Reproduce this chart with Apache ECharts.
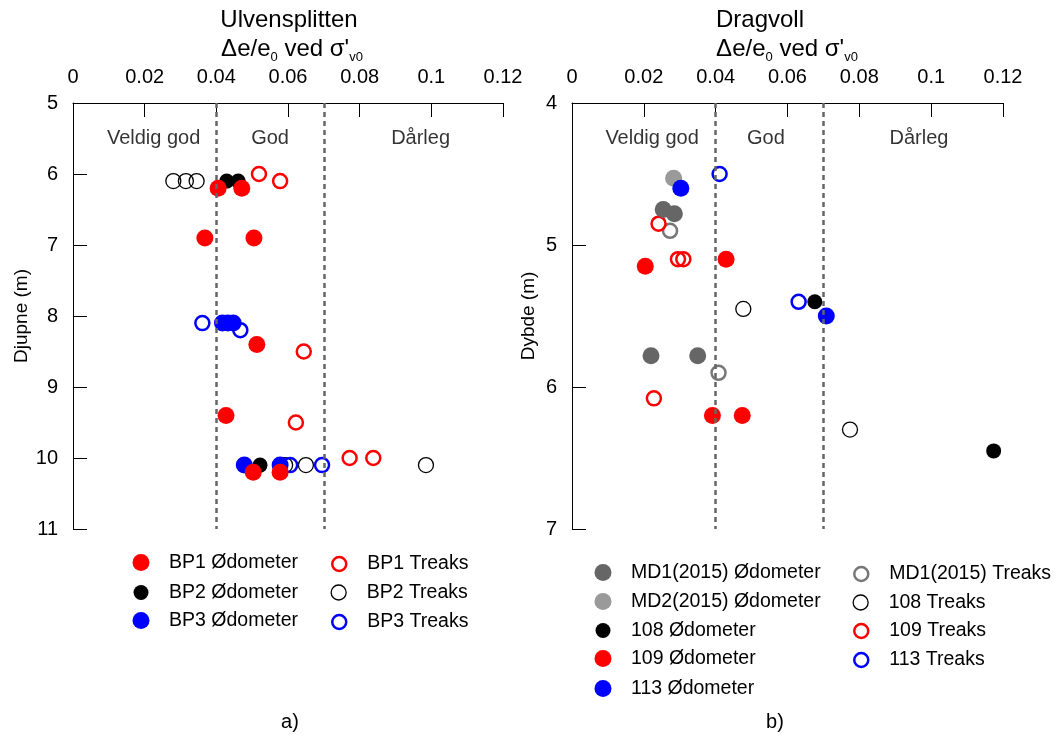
<!DOCTYPE html>
<html>
<head>
<meta charset="utf-8">
<script src="https://cdn.jsdelivr.net/npm/echarts@6/dist/echarts.min.js"></script>
<style>
  html, body { margin: 0; padding: 0; background: #fff; }
  #chart { width: 1057px; height: 742px; }
</style>
</head>
<body>
<div id="chart"></div>
<script>
const FONT = '"Liberation Sans", Arial, Helvetica, sans-serif';

// Δe/e0 axis ticks and quality class limits
const xTicks = [0, 0.02, 0.04, 0.06, 0.08, 0.1, 0.12];
const classLimits = [0.04, 0.07];
const classNames = ['Veldig god', 'God', 'Dårleg'];
const ulvClassLabelX = [0.0225, 0.055, 0.097];
const ulvClassLabelDepth = 5.5;
const dragClassLabelX = [0.0223, 0.054, 0.0966];
const dragClassLabelDepth = 4.25;

// depth ticks (m)
const ulvDepthTicks = [5, 6, 7, 8, 9, 10, 11];
const dragDepthTicks = [4, 5, 6, 7];

// Ulvensplitten: [Δe/e0, depth]
const bp1Odometer = [[0.0405, 6.2], [0.0471, 6.2], [0.0368, 6.9], [0.0505, 6.9], [0.0513, 8.4], [0.0427, 9.4], [0.0503, 10.2], [0.0578, 10.2]];
const bp2Odometer = [[0.0429, 6.1], [0.0461, 6.1], [0.0522, 10.1]];
const bp3Odometer = [[0.0417, 8.1], [0.0432, 8.1], [0.0447, 8.1], [0.0478, 10.1], [0.0578, 10.1]];
const bp1Treaks = [[0.0519, 6.0], [0.0578, 6.1], [0.0644, 8.5], [0.0622, 9.5], [0.0772, 10.0], [0.0838, 10.0]];
const bp2Treaks = [[0.028, 6.1], [0.0315, 6.1], [0.0345, 6.1], [0.0592, 10.1], [0.065, 10.1], [0.0985, 10.1]];
const bp3Treaks = [[0.0361, 8.1], [0.0467, 8.2], [0.0606, 10.1], [0.0695, 10.1]];

// Dragvoll: [Δe/e0, depth]
const md1Odometer = [[0.0254, 4.75], [0.0285, 4.78], [0.022, 5.78], [0.035, 5.78]];
const md2Odometer = [[0.0283, 4.53]];
const p108Odometer = [[0.0676, 5.4], [0.1174, 6.45]];
const p109Odometer = [[0.0204, 5.15], [0.0429, 5.1], [0.0391, 6.2], [0.0474, 6.2]];
const p113Odometer = [[0.0303, 4.6], [0.0708, 5.5]];
const md1Treaks = [[0.0273, 4.9], [0.0408, 5.9]];
const p108Treaks = [[0.0477, 5.45], [0.0774, 6.3]];
const p109Treaks = [[0.0241, 4.85], [0.0295, 5.1], [0.031, 5.1], [0.0228, 6.08]];
const p113Treaks = [[0.0411, 4.5], [0.0631, 5.4]];

const RED = '#ff0000', BLUE = '#0000ff', BLACK = '#000000', DARKGREY = '#666666', LIGHTGREY = '#9a9a9a', GREYRING = '#777777';

function filled(name, data, color, size, g) {
  return {
    type: 'scatter', name, data, xAxisIndex: g, yAxisIndex: g,
    symbol: 'circle', symbolSize: size,
    itemStyle: { color, borderWidth: 0, opacity: 1 }
  };
}
function ring(name, data, color, width, size, g) {
  return {
    type: 'scatter', name, data, xAxisIndex: g, yAxisIndex: g,
    symbol: 'circle', symbolSize: size,
    itemStyle: { color: 'rgba(255,255,255,0)', borderColor: color, borderWidth: width, opacity: 1 }
  };
}
function classLayer(g, xs, depth) {
  return {
    type: 'scatter', name: 'klasse' + g, xAxisIndex: g, yAxisIndex: g,
    symbolSize: 1, silent: true, z: 1,
    itemStyle: { color: 'rgba(0,0,0,0)' },
    data: classNames.map((n, i) => ({ name: n, value: [xs[i], depth] })),
    label: {
      show: true, position: 'inside', formatter: p => p.name,
      fontFamily: FONT, fontSize: 20, color: '#000'
    },
    markLine: {
      silent: true, symbol: ['none', 'none'], label: { show: false },
      lineStyle: { color: '#666666', width: 2.5, type: [5, 4] },
      data: classLimits.map(v => ({ xAxis: v }))
    }
  };
}

function xAxisDef(g) {
  return {
    type: 'value', gridIndex: g, position: 'top',
    min: xTicks[0], max: xTicks[xTicks.length - 1], interval: xTicks[1] - xTicks[0],
    axisLine: { show: true, onZero: false, lineStyle: { color: '#000', width: 1 } },
    axisTick: { show: true, inside: true, length: 14, lineStyle: { color: '#000', width: 1 } },
    axisLabel: { margin: 16, fontFamily: FONT, fontSize: 20, color: '#000', formatter: v => String(+v.toFixed(2)) },
    splitLine: { show: false }
  };
}
function yAxisDef(g, ticks, name, gap) {
  return {
    type: 'value', gridIndex: g, inverse: true,
    min: ticks[0], max: ticks[ticks.length - 1], interval: ticks[1] - ticks[0],
    name, nameLocation: 'middle', nameGap: gap,
    nameTextStyle: { fontFamily: FONT, fontSize: 19, color: '#000' },
    axisLine: { show: true, onZero: false, lineStyle: { color: '#000', width: 1 } },
    axisTick: { show: true, inside: true, length: 14, lineStyle: { color: '#000', width: 1 } },
    axisLabel: { margin: 15, fontFamily: FONT, fontSize: 20, color: '#000' },
    splitLine: { show: false }
  };
}

// one legend block per entry; the block's left edge is the marker's left edge
function legendItem(name, cx, cy, diam, borderWidth) {
  const W = 46;
  return {
    data: [name], orient: 'horizontal', left: cx - diam / 2, top: cy - diam / 2,
    itemWidth: W, itemHeight: diam, padding: 0, itemGap: 0, selectedMode: false,
    itemStyle: { borderWidth: borderWidth },
    textStyle: { fontFamily: FONT, fontSize: 19.5, color: '#000' }
  };
}

const series = [
  classLayer(0, ulvClassLabelX, ulvClassLabelDepth),
  ring('BP1 Treaks', bp1Treaks, RED, 2.5, 14, 0),
  ring('BP2 Treaks', bp2Treaks, BLACK, 1.3, 15, 0),
  ring('BP3 Treaks', bp3Treaks, BLUE, 2.5, 14, 0),
  filled('BP3 Ødometer', bp3Odometer, BLUE, 17, 0),
  filled('BP2 Ødometer', bp2Odometer, BLACK, 15, 0),
  filled('BP1 Ødometer', bp1Odometer, RED, 17, 0),

  classLayer(1, dragClassLabelX, dragClassLabelDepth),
  ring('MD1(2015) Treaks', md1Treaks, GREYRING, 2.5, 14, 1),
  ring('108 Treaks', p108Treaks, BLACK, 1.3, 15, 1),
  ring('109 Treaks', p109Treaks, RED, 2.5, 14, 1),
  ring('113 Treaks', p113Treaks, BLUE, 2.5, 14, 1),
  filled('MD1(2015) Ødometer', md1Odometer, DARKGREY, 17, 1),
  filled('MD2(2015) Ødometer', md2Odometer, LIGHTGREY, 17, 1),
  filled('108 Ødometer', p108Odometer, BLACK, 15, 1),
  filled('109 Ødometer', p109Odometer, RED, 17, 1),
  filled('113 Ødometer', p113Odometer, BLUE, 17, 1)
];

const legend = [
  legendItem('BP1 Ødometer', 141, 561, 17, 0),
  legendItem('BP2 Ødometer', 141, 590, 15, 0),
  legendItem('BP3 Ødometer', 141, 619, 17, 0),
  legendItem('BP1 Treaks', 338, 561, 14, 2.5),
  legendItem('BP2 Treaks', 338, 590, 15, 1.3),
  legendItem('BP3 Treaks', 338, 619, 14, 2.5),

  legendItem('MD1(2015) Ødometer', 603, 571, 17, 0),
  legendItem('MD2(2015) Ødometer', 603, 600, 17, 0),
  legendItem('108 Ødometer', 603, 628, 15, 0),
  legendItem('109 Ødometer', 603, 657, 17, 0),
  legendItem('113 Ødometer', 603, 687, 17, 0),
  legendItem('MD1(2015) Treaks', 860, 571, 14, 2.5),
  legendItem('108 Treaks', 860, 600, 15, 1.3),
  legendItem('109 Treaks', 860, 628, 14, 2.5),
  legendItem('113 Treaks', 860, 657, 14, 2.5)
];

const axisTitleRich = {
  m: { fontFamily: FONT, fontSize: 24, lineHeight: 30, color: '#000' },
  s: { fontFamily: FONT, fontSize: 13, lineHeight: 14, verticalAlign: 'bottom', color: '#000' }
};
const axisTitle = "{m|Δe/e}{s|0}{m| ved σ'}{s|v0}";

function text(str, x, y, size, extra) {
  return {
    type: 'text', x, y, silent: true,
    style: Object.assign({ text: str, fontFamily: FONT, fontSize: size, fill: '#000', align: 'center', verticalAlign: 'middle' }, extra || {})
  };
}

const option = {
  animation: false,
  backgroundColor: '#ffffff',
  grid: [
    { left: 73, top: 103, width: 430, height: 426 },
    { left: 572, top: 103, width: 431, height: 426 }
  ],
  xAxis: [xAxisDef(0), xAxisDef(1)],
  yAxis: [yAxisDef(0, ulvDepthTicks, 'Djupne (m)', 42), yAxisDef(1, dragDepthTicks, 'Dybde (m)', 34)],
  legend,
  series,
  graphic: [
    text('Ulvensplitten', 289, 20, 24),
    text(axisTitle, 292, 49, 24, { rich: axisTitleRich }),
    text('Dragvoll', 760, 20, 24),
    text(axisTitle, 787, 49, 24, { rich: axisTitleRich }),
    text('a)', 290, 722, 20),
    text('b)', 775, 722, 20)
  ]
};

const chart = echarts.init(document.getElementById('chart'), null, { renderer: 'canvas' });
chart.setOption(option);
</script>
</body>
</html>
